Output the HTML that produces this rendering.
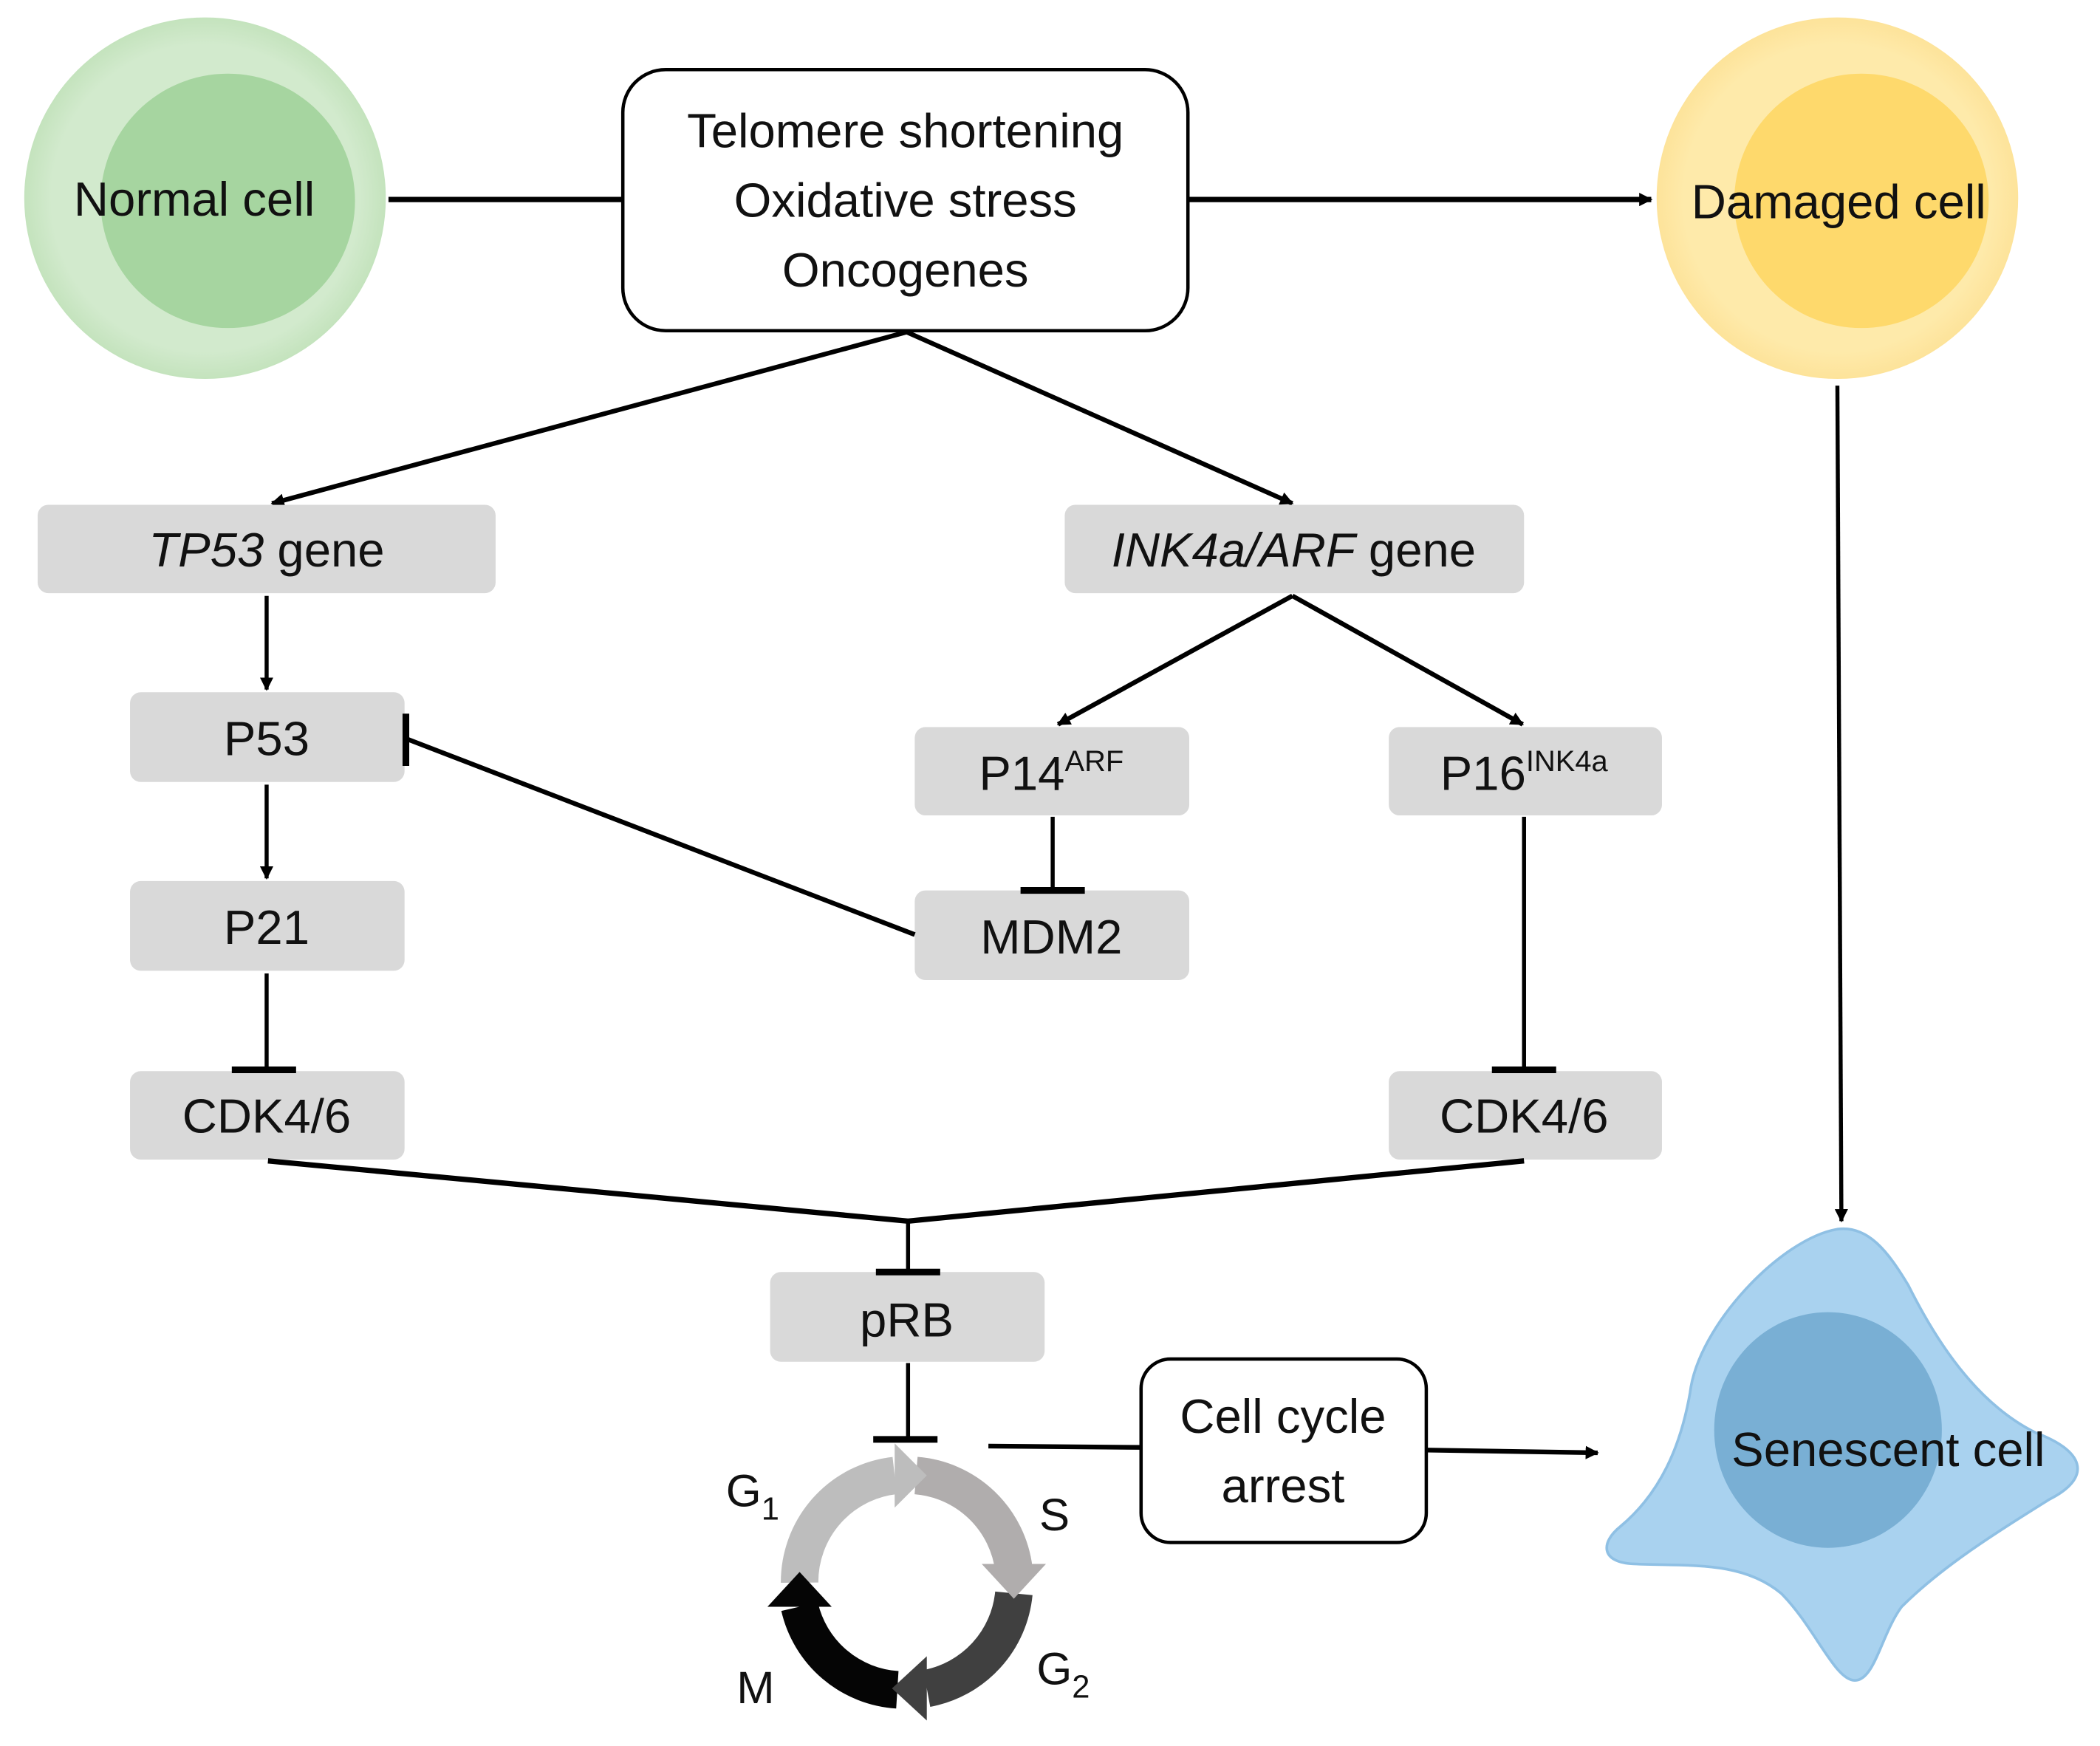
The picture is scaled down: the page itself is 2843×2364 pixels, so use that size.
<!DOCTYPE html>
<html><head><meta charset="utf-8"><style>
html,body{margin:0;padding:0;background:#fff;}
svg{display:block;}
text{font-family:"Liberation Sans","DejaVu Sans",sans-serif;fill:#111;}
</style></head><body>
<svg width="2843" height="2364" viewBox="0 0 1568 1304" xmlns="http://www.w3.org/2000/svg">
<defs>
<marker id="a" markerWidth="10" markerHeight="10" refX="9" refY="5" orient="auto" markerUnits="userSpaceOnUse">
<path d="M0,0 L10,5 L0,10 Z" fill="#000"/></marker>
<radialGradient id="gn" cx="0.5" cy="0.5" r="0.5"><stop offset="0.85" stop-color="#d2eacd"/><stop offset="1" stop-color="#c4e3bd"/></radialGradient>
<radialGradient id="yn" cx="0.5" cy="0.5" r="0.5"><stop offset="0.85" stop-color="#feeaaa"/><stop offset="1" stop-color="#fde39a"/></radialGradient>
</defs>
<circle cx="153" cy="148" r="135" fill="url(#gn)"/>
<circle cx="170" cy="150" r="95" fill="#a6d5a0"/>
<text x="145" y="161" font-size="36" text-anchor="middle">Normal cell</text>
<circle cx="1372" cy="148" r="135" fill="url(#yn)"/>
<circle cx="1390" cy="150" r="95" fill="#fed96c"/>
<text x="1373" y="163" font-size="36" text-anchor="middle">Damaged cell</text>
<rect x="465" y="52" width="422" height="195" rx="32" fill="#fff" stroke="#000" stroke-width="2.5"/>
<text x="676" y="110" font-size="36" text-anchor="middle">Telomere shortening</text>
<text x="676" y="162" font-size="36" text-anchor="middle">Oxidative stress</text>
<text x="676" y="214" font-size="36" text-anchor="middle">Oncogenes</text>
<g stroke="#000" stroke-width="4" fill="none">
<line x1="290" y1="149" x2="465" y2="149"/>
<line x1="887" y1="149" x2="1233" y2="149" marker-end="url(#a)"/>
<line x1="677" y1="248" x2="203" y2="376" stroke-width="3.5" marker-end="url(#a)"/>
<line x1="677" y1="248" x2="965" y2="376" stroke-width="3.5" marker-end="url(#a)"/>
<line x1="1372" y1="288" x2="1375" y2="912" stroke-width="3" marker-end="url(#a)"/>
</g>
<g fill="#d9d9d9">
<rect x="28" y="377" width="342" height="66" rx="8"/>
<rect x="795" y="377" width="343" height="66" rx="8"/>
<rect x="97" y="517" width="205" height="67" rx="8"/>
<rect x="97" y="658" width="205" height="67" rx="8"/>
<rect x="97" y="800" width="205" height="66" rx="8"/>
<rect x="683" y="543" width="205" height="66" rx="8"/>
<rect x="683" y="665" width="205" height="67" rx="8"/>
<rect x="1037" y="543" width="204" height="66" rx="8"/>
<rect x="1037" y="800" width="204" height="66" rx="8"/>
<rect x="575" y="950" width="205" height="67" rx="8"/>
</g>
<text x="199" y="423" font-size="36" text-anchor="middle"><tspan font-style="italic">TP53</tspan> gene</text>
<text x="966" y="423" font-size="36" text-anchor="middle"><tspan font-style="italic">INK4a/ARF</tspan> gene</text>
<text x="199" y="564" font-size="36" text-anchor="middle">P53</text>
<text x="199" y="705" font-size="36" text-anchor="middle">P21</text>
<text x="199" y="846" font-size="36" text-anchor="middle">CDK4/6</text>
<text x="785" y="590" font-size="36" text-anchor="middle">P14<tspan font-size="22" dy="-14">ARF</tspan></text>
<text x="785" y="712" font-size="36" text-anchor="middle">MDM2</text>
<text x="1138" y="590" font-size="36" text-anchor="middle">P16<tspan font-size="22" dy="-14">INK4a</tspan></text>
<text x="1138" y="846" font-size="36" text-anchor="middle">CDK4/6</text>
<text x="677" y="998" font-size="36" text-anchor="middle">pRB</text>
<g stroke="#000" stroke-width="3" fill="none">
<line x1="199" y1="445" x2="199" y2="515" marker-end="url(#a)"/>
<line x1="199" y1="586" x2="199" y2="656" marker-end="url(#a)"/>
<line x1="199" y1="727" x2="199" y2="798"/>
<line x1="173" y1="799" x2="221" y2="799" stroke-width="5"/>
<line x1="965" y1="445" x2="790" y2="541" stroke-width="3.5" marker-end="url(#a)"/>
<line x1="965" y1="445" x2="1137" y2="541" stroke-width="3.5" marker-end="url(#a)"/>
<line x1="786" y1="610" x2="786" y2="665"/>
<line x1="762" y1="665" x2="810" y2="665" stroke-width="5"/>
<line x1="683" y1="698" x2="304" y2="552" stroke-width="3.5"/>
<line x1="303" y1="533" x2="303" y2="572" stroke-width="5"/>
<line x1="1138" y1="610" x2="1138" y2="798"/>
<line x1="1114" y1="799" x2="1162" y2="799" stroke-width="5"/>
<polyline points="200,867 678,912 1138,867" stroke-width="4"/>
<line x1="678" y1="912" x2="678" y2="950"/>
<line x1="654" y1="950" x2="702" y2="950" stroke-width="5"/>
<line x1="678" y1="1018" x2="678" y2="1075"/>
<line x1="652" y1="1075" x2="700" y2="1075" stroke-width="5"/>
<line x1="738" y1="1080" x2="852" y2="1081" stroke-width="3.5"/>
<line x1="1065" y1="1083" x2="1193" y2="1085" stroke-width="3.5" marker-end="url(#a)"/>
</g>
<rect x="852" y="1015" width="213" height="137" rx="22" fill="#fff" stroke="#000" stroke-width="2.5"/>
<text x="958" y="1070" font-size="36" text-anchor="middle">Cell cycle</text>
<text x="958" y="1122" font-size="36" text-anchor="middle">arrest</text>
<path d="M1372,918 C1395,915 1410,935 1425,960 C1450,1010 1480,1050 1520,1070 C1560,1085 1560,1105 1530,1120 C1490,1145 1450,1170 1420,1200 C1405,1220 1400,1255 1385,1255 C1370,1255 1355,1215 1330,1190 C1300,1165 1260,1170 1220,1168 C1195,1167 1195,1152 1210,1140 C1240,1115 1255,1080 1262,1040 C1268,990 1330,925 1372,918 Z" fill="#a9d2ef" stroke="#8fc0e4" stroke-width="2"/>
<ellipse cx="1365" cy="1068" rx="85" ry="88" fill="#79afd4"/>
<text x="1410" y="1095" font-size="36" text-anchor="middle">Senescent cell</text>
<g fill="none" stroke-width="28">
<path d="M597,1182 A80,80 0 0 1 668,1102" stroke="#bdbdbd"/>
<path d="M684,1102 A80,80 0 0 1 757,1172" stroke="#b0adad"/>
<path d="M757,1190 A80,80 0 0 1 692,1261" stroke="#404040"/>
<path d="M670,1262 A80,80 0 0 1 597,1200" stroke="#050505"/>
</g>
<polygon points="668,1078 668,1126 692,1102" fill="#bdbdbd"/>
<polygon points="733,1168 781,1168 757,1194" fill="#b0adad"/>
<polygon points="692,1237 692,1285 666,1261" fill="#404040"/>
<polygon points="573,1200 621,1200 597,1174" fill="#050505"/>
<text x="542" y="1125" font-size="34">G<tspan font-size="24" dy="10">1</tspan></text>
<text x="776" y="1143" font-size="34">S</text>
<text x="774" y="1258" font-size="34">G<tspan font-size="24" dy="10">2</tspan></text>
<text x="550" y="1272" font-size="34">M</text>
</svg>
</body></html>
